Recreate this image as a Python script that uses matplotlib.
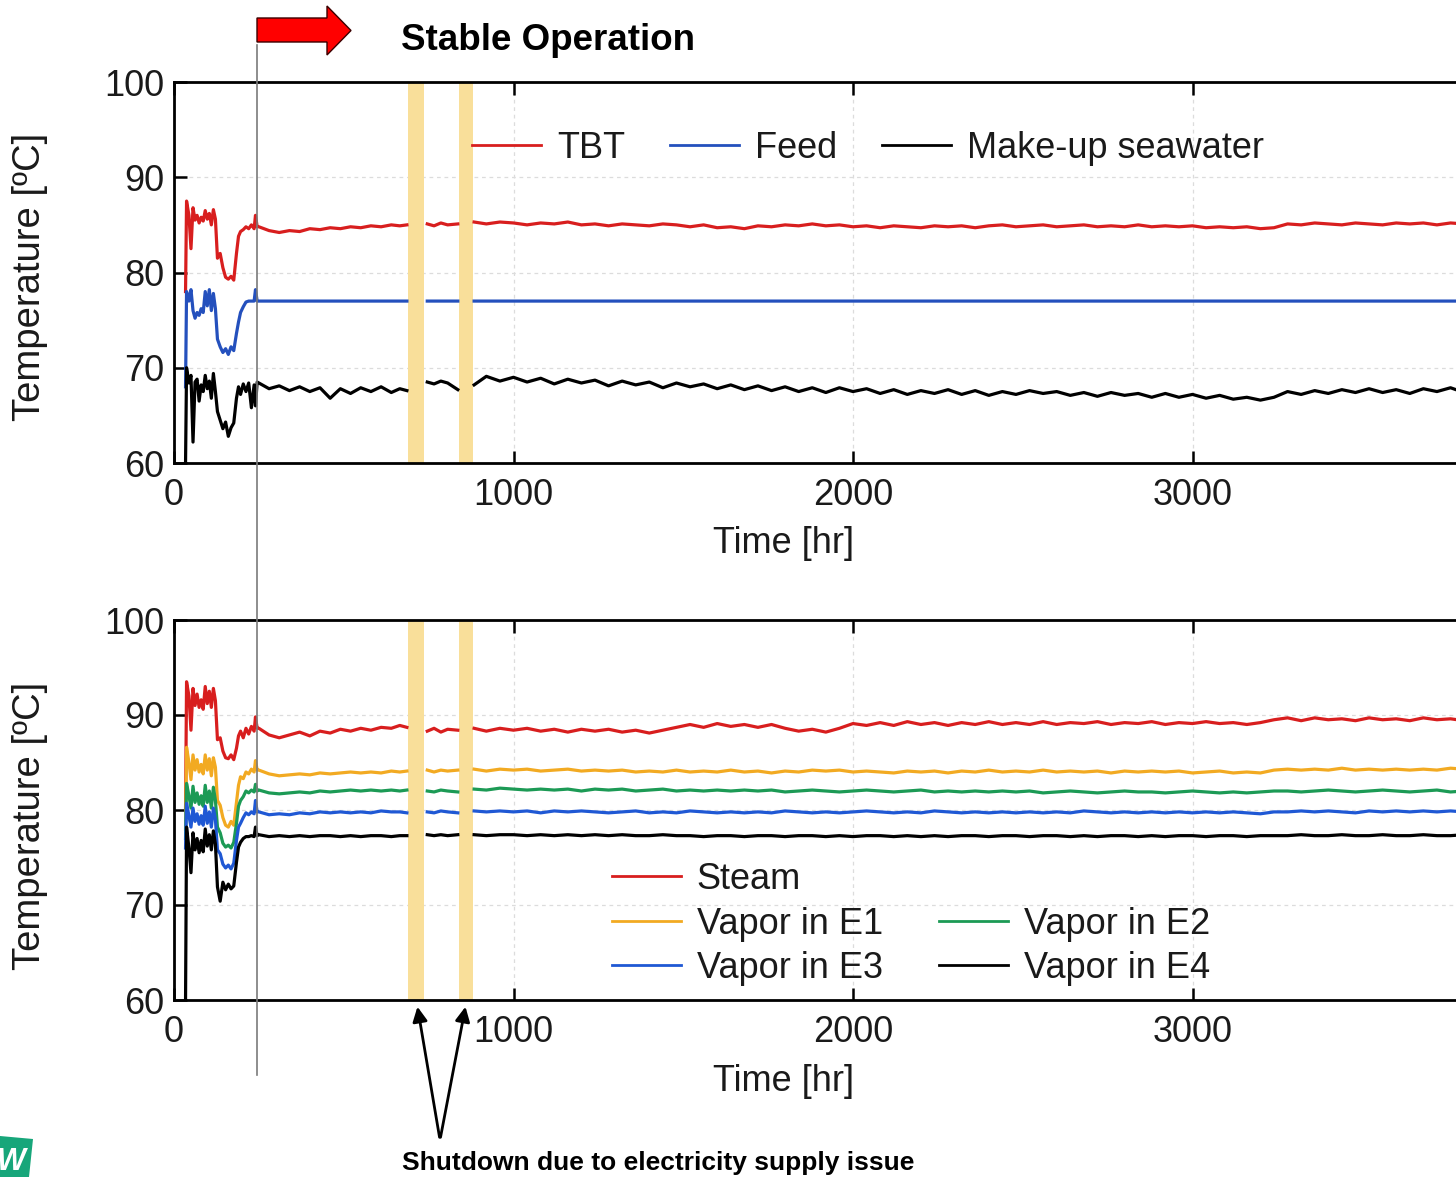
import matplotlib
matplotlib.use("Agg")
import matplotlib.pyplot as plt
from matplotlib.lines import Line2D
from matplotlib.patches import Polygon, FancyArrowPatch
import matplotlib.transforms as mtransforms

plt.rcParams['font.family'] = ['Liberation Sans', 'DejaVu Sans']
nan = float('nan')

# ---------------- time axis [hr] ----------------
t_early = [34, 37, 44, 50, 56, 62, 68, 74, 80, 86, 92, 98, 104, 110, 116, 122, 128,
           136, 144, 152, 160, 168, 176, 184, 190, 196, 204, 212, 220, 228, 236, 240, 245]
t_run1 = [250, 280, 310, 340, 370, 400, 430, 460, 490, 520, 550, 580, 610, 640, 665, 686, 690]
t_run2 = [746, 766, 786, 806, 836, 840]
t_run3 = [884, 920, 960, 1000, 1040, 1080, 1120, 1160, 1200, 1240,
          1280, 1320, 1360, 1400, 1440, 1480, 1520, 1560, 1600, 1640,
          1680, 1720, 1760, 1800, 1840, 1880, 1920, 1960, 2000, 2040,
          2080, 2120, 2160, 2200, 2240, 2280, 2320, 2360, 2400, 2440,
          2480, 2520, 2560, 2600, 2640, 2680, 2720, 2760, 2800, 2840,
          2880, 2920, 2960, 3000, 3040, 3080, 3120, 3160, 3200, 3240,
          3280, 3320, 3360, 3400, 3440, 3480, 3520, 3560, 3600, 3640,
          3680, 3720, 3760, 3800, 3840]
time_hr = t_early + t_run1 + t_run2 + t_run3

# ---------------- top panel ----------------
tbt = [78.0, 87.5, 86.0, 82.5, 86.8, 85.5, 86.0, 85.2, 85.8, 85.4, 86.5, 85.6, 86.2, 85.0, 86.6, 85.6, 81.5,
       82.0, 80.5, 79.5, 79.3, 79.6, 79.2, 82.0, 83.8, 84.3, 84.5, 84.8, 84.6, 85.0, 84.6, 86.0, 84.8,
       84.8, 84.4, 84.2, 84.4, 84.3, 84.6, 84.5, 84.7, 84.6, 84.8, 84.7, 84.9, 84.8, 85.0, 84.9, 85.0, nan,
       85.1, 84.9, 85.2, 85.0, 85.1, nan,
       85.3, 85.1, 85.3, 85.2, 85.0, 85.2, 85.1, 85.3, 85.0, 85.1,
       84.9, 85.1, 85.0, 84.9, 85.1, 85.0, 84.8, 85.0, 84.7, 84.8,
       84.6, 84.9, 84.8, 85.0, 84.9, 85.1, 84.9, 85.0, 84.8, 84.9,
       84.7, 84.9, 84.8, 84.7, 84.9, 84.8, 84.9, 84.7, 84.9, 85.0,
       84.8, 84.9, 85.0, 84.8, 84.9, 85.0, 84.8, 84.9, 84.8, 85.0,
       84.8, 84.9, 84.8, 84.9, 84.7, 84.8, 84.7, 84.8, 84.6, 84.7,
       85.1, 85.0, 85.2, 85.1, 85.0, 85.2, 85.1, 85.0, 85.2, 85.1,
       85.2, 85.0, 85.2, 85.1, 85.2]

feed = [68.0, 78.0, 77.0, 78.2, 76.0, 75.2, 75.8, 75.5, 76.2, 75.8, 78.0, 76.5, 78.2, 76.0, 77.8, 76.2, 73.0,
        72.2, 71.6, 72.0, 71.4, 72.2, 71.8, 73.6, 74.8, 75.8, 76.4, 76.9, 77.0, 77.0, 77.0, 78.2, 77.0,
        77.0, 77.0, 77.0, 77.0, 77.0, 77.0, 77.0, 77.0, 77.0, 77.0, 77.0, 77.0, 77.0, 77.0, 77.0, 77.0, nan,
        77.0, 77.0, 77.0, 77.0, 77.0, nan,
        77.0, 77.0, 77.0, 77.0, 77.0, 77.0, 77.0, 77.0, 77.0, 77.0,
        77.0, 77.0, 77.0, 77.0, 77.0, 77.0, 77.0, 77.0, 77.0, 77.0,
        77.0, 77.0, 77.0, 77.0, 77.0, 77.0, 77.0, 77.0, 77.0, 77.0,
        77.0, 77.0, 77.0, 77.0, 77.0, 77.0, 77.0, 77.0, 77.0, 77.0,
        77.0, 77.0, 77.0, 77.0, 77.0, 77.0, 77.0, 77.0, 77.0, 77.0,
        77.0, 77.0, 77.0, 77.0, 77.0, 77.0, 77.0, 77.0, 77.0, 77.0,
        77.0, 77.0, 77.0, 77.0, 77.0, 77.0, 77.0, 77.0, 77.0, 77.0,
        77.0, 77.0, 77.0, 77.0, 77.0]

makeup = [60.0, 70.0, 68.4, 69.2, 62.2, 68.5, 68.8, 66.5, 68.2, 67.5, 69.2, 67.8, 68.6, 66.8, 69.4, 67.5, 65.4,
          64.5, 63.6, 64.3, 62.8, 63.7, 64.2, 66.8, 68.0, 67.2, 68.3, 67.5, 68.4, 65.8, 68.2, 66.0, 68.5,
          68.4, 67.8, 68.1, 67.6, 68.0, 67.5, 67.9, 66.8, 67.8, 67.3, 67.9, 67.5, 68.0, 67.4, 67.8, 67.6, nan,
          68.5, 68.3, 68.6, 68.4, 67.7, nan,
          68.2, 69.1, 68.6, 69.0, 68.5, 68.9, 68.3, 68.8, 68.4, 68.7,
          68.1, 68.6, 68.2, 68.5, 67.9, 68.4, 68.0, 68.3, 67.8, 68.2,
          67.7, 68.1, 67.6, 68.0, 67.5, 67.9, 67.4, 67.9, 67.5, 67.8,
          67.3, 67.7, 67.2, 67.6, 67.3, 67.7, 67.2, 67.6, 67.1, 67.5,
          67.2, 67.6, 67.3, 67.5, 67.1, 67.4, 67.0, 67.4, 67.1, 67.3,
          66.9, 67.3, 66.9, 67.2, 66.8, 67.1, 66.7, 66.9, 66.6, 66.9,
          67.5, 67.2, 67.6, 67.3, 67.7, 67.4, 67.8, 67.4, 67.7, 67.3,
          67.8, 67.5, 67.9, 67.4, 67.7]

# ---------------- bottom panel ----------------
steam = [80.0, 93.5, 92.0, 88.4, 92.8, 91.0, 92.2, 90.8, 91.6, 90.6, 93.0, 91.2, 92.5, 90.8, 92.8, 91.5, 87.4,
         87.6, 86.2, 85.5, 85.4, 85.8, 85.3, 86.5, 87.8, 88.3, 87.6, 88.6, 88.0, 88.8, 88.3, 89.8, 88.6,
         88.6, 87.9, 87.6, 87.9, 88.2, 87.8, 88.3, 88.1, 88.5, 88.3, 88.6, 88.4, 88.7, 88.6, 88.9, 88.7, nan,
         88.3, 88.6, 88.2, 88.5, 88.4, nan,
         88.6, 88.3, 88.6, 88.4, 88.6, 88.3, 88.5, 88.2, 88.5, 88.3,
         88.5, 88.2, 88.4, 88.1, 88.4, 88.7, 89.0, 88.7, 89.1, 88.8,
         89.0, 88.7, 89.0, 88.6, 88.3, 88.5, 88.2, 88.6, 89.1, 88.9,
         89.2, 88.9, 89.3, 89.0, 89.2, 88.9, 89.2, 89.0, 89.3, 89.0,
         89.2, 89.0, 89.3, 89.0, 89.2, 89.1, 89.3, 89.0, 89.2, 89.1,
         89.3, 89.0, 89.2, 89.1, 89.3, 89.1, 89.2, 89.0, 89.2, 89.5,
         89.7, 89.4, 89.7, 89.5, 89.6, 89.4, 89.7, 89.5, 89.6, 89.4,
         89.7, 89.5, 89.6, 89.4, 89.6]

vapor_e1 = [78.0, 86.6, 85.0, 83.2, 85.8, 84.2, 85.3, 84.0, 84.8, 83.8, 85.8, 84.2, 85.4, 83.6, 85.5, 84.5, 81.0,
            80.5, 79.2, 78.4, 78.2, 78.8, 78.4, 80.8, 82.6, 83.5, 83.3, 84.0, 83.8, 84.3, 84.0, 85.2, 84.2,
            84.2, 83.8, 83.6, 83.7, 83.8, 83.7, 83.9, 83.8, 83.9, 84.0, 83.9, 84.0, 83.9, 84.1, 84.0, 84.1, nan,
            84.2, 84.0, 84.2, 84.1, 84.2, nan,
            84.3, 84.1, 84.3, 84.2, 84.3, 84.1, 84.2, 84.3, 84.1, 84.2,
            84.1, 84.2, 84.0, 84.1, 84.0, 84.2, 84.0, 84.1, 84.0, 84.2,
            84.0, 84.1, 83.9, 84.1, 84.0, 84.2, 84.1, 84.2, 84.0, 84.1,
            84.0, 83.9, 84.1, 84.0, 84.1, 83.9, 84.1, 84.0, 84.2, 84.0,
            84.1, 84.0, 84.2, 84.0, 84.1, 84.0, 84.1, 83.9, 84.1, 84.0,
            84.1, 84.0, 84.1, 83.9, 84.0, 84.1, 83.9, 84.0, 83.9, 84.2,
            84.3, 84.2, 84.3, 84.2, 84.4, 84.2, 84.3, 84.2, 84.3, 84.2,
            84.3, 84.2, 84.4, 84.3, 84.2]

vapor_e2 = [77.0, 82.8, 81.5, 80.2, 82.5, 80.8, 81.8, 80.6, 81.5, 80.4, 82.6, 80.8, 82.0, 80.2, 82.4, 81.0, 78.2,
            77.6, 76.5, 76.1, 76.3, 76.0, 76.6, 78.6, 80.4, 81.0, 81.4, 82.0, 81.8, 82.1, 81.9, 82.7, 82.0,
            82.1, 81.8, 81.7, 81.8, 81.9, 81.8, 82.0, 81.9, 82.0, 82.1, 82.0, 82.1, 82.0, 82.1, 82.0, 82.1, nan,
            82.0, 81.9, 82.1, 82.0, 81.9, nan,
            82.2, 82.1, 82.3, 82.2, 82.1, 82.2, 82.1, 82.2, 82.0, 82.2,
            82.1, 82.2, 82.0, 82.1, 82.2, 82.0, 82.1, 82.0, 82.1, 82.0,
            82.1, 82.0, 82.1, 81.9, 82.0, 82.1, 82.0, 81.9, 82.0, 82.1,
            82.0, 81.9, 82.0, 82.1, 81.9, 82.0, 81.9, 82.0, 81.9, 82.0,
            81.9, 82.0, 81.8, 81.9, 82.0, 81.9, 81.8, 81.9, 82.0, 81.9,
            81.9, 81.8, 81.9, 82.0, 81.9, 81.8, 81.9, 81.8, 81.9, 82.0,
            82.0, 81.9, 82.0, 82.1, 82.0, 81.9, 82.0, 82.1, 82.0, 81.9,
            82.0, 82.1, 81.9, 82.0, 82.1]

vapor_e3 = [76.0, 80.7, 79.4, 78.2, 80.2, 78.8, 79.6, 78.5, 79.4, 78.4, 80.4, 78.6, 79.8, 78.2, 80.2, 79.0, 75.8,
            75.4, 74.3, 73.9, 74.2, 73.8, 74.4, 76.8, 78.2, 78.6, 79.2, 79.7, 79.5, 79.8, 79.6, 81.0, 79.8,
            79.8, 79.5, 79.6, 79.5, 79.7, 79.6, 79.8, 79.7, 79.8, 79.7, 79.8, 79.7, 79.9, 79.8, 79.8, 79.7, nan,
            79.8, 79.7, 79.9, 79.8, 79.7, nan,
            79.9, 79.8, 79.9, 79.8, 79.9, 79.7, 79.9, 79.8, 79.9, 79.8,
            79.7, 79.8, 79.9, 79.7, 79.8, 79.7, 79.9, 79.8, 79.7, 79.8,
            79.7, 79.8, 79.7, 79.9, 79.8, 79.7, 79.8, 79.7, 79.8, 79.9,
            79.8, 79.7, 79.8, 79.7, 79.9, 79.8, 79.7, 79.8, 79.7, 79.8,
            79.7, 79.8, 79.7, 79.8, 79.7, 79.9, 79.8, 79.7, 79.8, 79.7,
            79.8, 79.7, 79.8, 79.7, 79.8, 79.7, 79.8, 79.7, 79.6, 79.8,
            79.8, 79.9, 79.8, 79.9, 79.8, 79.7, 79.9, 79.8, 79.9, 79.8,
            79.9, 79.8, 79.9, 79.8, 79.9]

vapor_e4 = [60.0, 78.2, 76.0, 73.4, 77.6, 75.8, 77.0, 75.5, 76.8, 75.6, 78.0, 76.2, 77.4, 75.8, 77.8, 76.4, 71.9,
            70.4, 72.4, 71.6, 72.2, 71.7, 72.0, 74.5, 76.1, 76.6, 77.0, 77.2, 77.2, 77.3, 77.2, 78.2, 77.3,
            77.4, 77.2, 77.3, 77.2, 77.3, 77.2, 77.3, 77.3, 77.2, 77.3, 77.2, 77.3, 77.3, 77.2, 77.3, 77.3, nan,
            77.4, 77.3, 77.4, 77.3, 77.4, nan,
            77.4, 77.3, 77.4, 77.4, 77.3, 77.4, 77.3, 77.4, 77.3, 77.4,
            77.3, 77.4, 77.3, 77.3, 77.4, 77.3, 77.3, 77.2, 77.3, 77.3,
            77.2, 77.3, 77.3, 77.2, 77.3, 77.3, 77.2, 77.3, 77.2, 77.3,
            77.3, 77.2, 77.3, 77.2, 77.3, 77.2, 77.3, 77.3, 77.2, 77.3,
            77.3, 77.2, 77.3, 77.3, 77.2, 77.3, 77.2, 77.3, 77.3, 77.2,
            77.3, 77.2, 77.3, 77.3, 77.2, 77.3, 77.3, 77.2, 77.3, 77.3,
            77.3, 77.4, 77.3, 77.3, 77.4, 77.3, 77.3, 77.4, 77.3, 77.3,
            77.4, 77.3, 77.3, 77.4, 77.3]

shutdown_windows = [(689, 736), (839, 881)]
stable_start_hr = 244
x_ticks = [0, 1000, 2000, 3000]
y_ticks = [60, 70, 80, 90, 100]

top_names = ['TBT', 'Feed', 'Make-up seawater']
bottom_names = ['Steam', 'Vapor in E1', 'Vapor in E2', 'Vapor in E3', 'Vapor in E4']

# ---------------- figure ----------------
W, H = 1456, 1177
fig = plt.figure(figsize=(W / 100, H / 100), dpi=100)


def fx(px):
    return px / W


def fy(py):
    return 1 - py / H


ax_w = fx(1476 - 174)
ax1 = fig.add_axes([fx(174), fy(463), ax_w, (463 - 82) / H])
ax2 = fig.add_axes([fx(174), fy(1000), ax_w, (1000 - 620) / H])
xmax = (1476 - 174) / 0.3395

red = '#d81e1e'
blue_feed = '#2450bd'
orange = '#f2aa22'
green = '#1c9a55'
blue3 = '#1f58d4'
band_c = '#f9df9a'
txt_c = '#1a1a1a'


def style(ax):
    ax.set_xlim(0, xmax)
    ax.set_ylim(60, 100)
    ax.set_xticks(x_ticks)
    ax.set_yticks(y_ticks)
    ax.tick_params(axis='both', direction='in', length=9, width=1.8, labelsize=26,
                   pad=7, top=True, right=False, labelcolor=txt_c)
    ax.tick_params(axis='x', pad=11)
    for s in ax.spines.values():
        s.set_linewidth(2.0)
    ax.spines['right'].set_visible(False)
    ax.grid(True, ls=(0, (3, 3)), color='#dcdcdc', lw=0.9, zorder=0)
    ax.set_axisbelow(True)
    for a, b in shutdown_windows:
        ax.axvspan(a, b, color=band_c, lw=0, zorder=0.8)


style(ax1)
style(ax2)

lw = 2.3
ax1.plot(time_hr, tbt, color=red, lw=lw, label=top_names[0])
ax1.plot(time_hr, feed, color=blue_feed, lw=lw, label=top_names[1])
ax1.plot(time_hr, makeup, color='black', lw=lw, label=top_names[2])

l_st, = ax2.plot(time_hr, steam, color=red, lw=lw)
l_e1, = ax2.plot(time_hr, vapor_e1, color=orange, lw=lw)
l_e2, = ax2.plot(time_hr, vapor_e2, color=green, lw=lw)
l_e3, = ax2.plot(time_hr, vapor_e3, color=blue3, lw=lw)
l_e4, = ax2.plot(time_hr, vapor_e4, color='black', lw=lw)

leg_kw = dict(frameon=False, fontsize=26, handlelength=1.9, handletextpad=0.45,
              borderpad=0, borderaxespad=0, labelcolor=txt_c)
leg1 = ax1.legend(loc='center left', bbox_to_anchor=((472 - 174) / 1302, (463 - 148) / 381),
                  ncol=3, columnspacing=1.25, **leg_kw)

blank = Line2D([], [], color='none')
leg2 = ax2.legend([l_st, l_e1, l_e3, blank, l_e2, l_e4],
                  [bottom_names[0], bottom_names[1], bottom_names[3], '', bottom_names[2], bottom_names[4]],
                  loc='center left', bbox_to_anchor=((612 - 174) / 1302, (1000 - 924) / 380),
                  ncol=2, columnspacing=1.55, labelspacing=0.26, **leg_kw)
for leg in (leg1, leg2):
    for h in leg.legend_handles:
        h.set_linewidth(2.0)

for ax in (ax1, ax2):
    ax.set_xlabel('Time [hr]', fontsize=26, color=txt_c)
ax1.xaxis.set_label_coords((784 - 174) / 1302, -(526 - 463) / 381)
ax2.xaxis.set_label_coords((784 - 174) / 1302, -(1064 - 1000) / 380)

fig.text(fx(30), fy(277), 'Temperature [ºC]', rotation=90, ha='center', va='center',
         fontsize=27.5, color=txt_c)
fig.text(fx(30), fy(826), 'Temperature [ºC]', rotation=90, ha='center', va='center',
         fontsize=27.5, color=txt_c)

# vertical marker for start of stable operation
bt = mtransforms.blended_transform_factory(ax1.transData, fig.transFigure)
fig.add_artist(Line2D([stable_start_hr, stable_start_hr], [fy(45), fy(1075)], transform=bt,
                      color='#7a7a7a', lw=1.2, zorder=5))

# red arrow
arrow_px = [(257, 18), (327, 18), (327, 6), (351, 30.5), (327, 55), (327, 42), (257, 42)]
fig.add_artist(Polygon([(fx(x), fy(y)) for x, y in arrow_px], closed=True, transform=fig.transFigure,
                       facecolor='#ff0000', edgecolor='#3a0000', lw=1.0, zorder=6))
fig.text(fx(401), fy(50), 'Stable Operation', fontsize=26.5, fontweight='bold',
         ha='left', va='baseline', color='black')

# shutdown annotation
fig.text(fx(402), fy(1170), 'Shutdown due to electricity supply issue', fontsize=19,
         fontweight='bold', ha='left', va='baseline', color='black')
for tip_x in (417, 466):
    fig.add_artist(FancyArrowPatch(
        (fx(440), fy(1140)), (fx(tip_x), fy(1004)), transform=fig.transFigure,
        arrowstyle='-|>', mutation_scale=22, lw=2.0, color='black', zorder=6))

# cropped logo corner
logo_px = [(0, 1136), (33, 1139), (29, 1177), (0, 1177)]
fig.add_artist(Polygon([(fx(x), fy(y)) for x, y in logo_px], closed=True, transform=fig.transFigure,
                       facecolor='#17a67a', edgecolor='none', zorder=6))
fig.text(fx(26), fy(1170), 'W', fontsize=22, fontweight='bold', fontstyle='italic',
         ha='right', va='baseline', color='white', zorder=7)

fig.savefig('out.png', dpi=100)
